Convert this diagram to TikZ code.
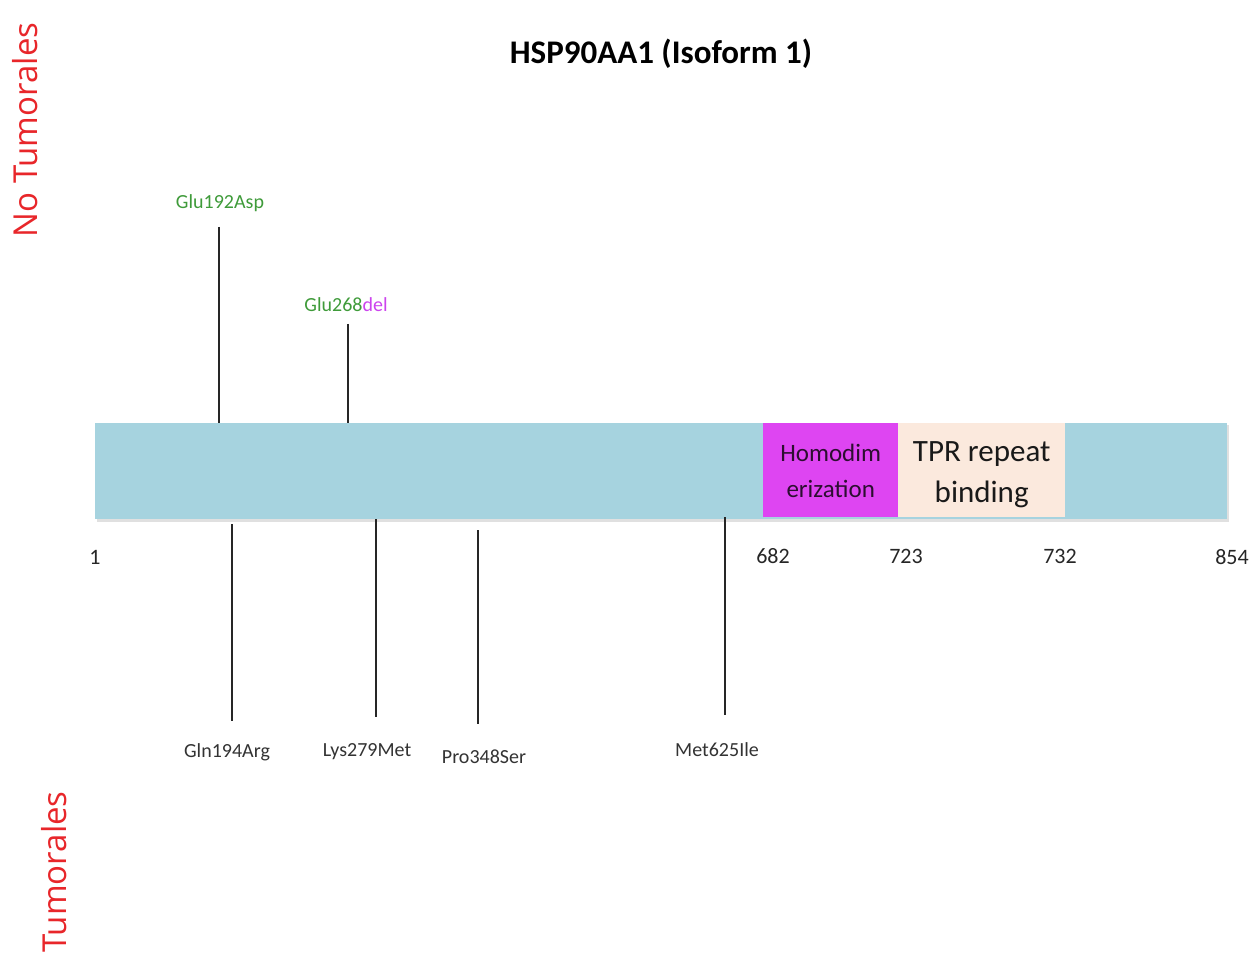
\documentclass[tikz,border=0pt]{standalone}
\usepackage{fontspec}
\setmainfont{Carlito}
\newfontfamily\sidefont{Open Sans}
\begin{document}
\definecolor{barblue}{HTML}{A6D3DF}
\definecolor{dimmag}{HTML}{DE45F2}
\definecolor{tprpeach}{HTML}{FBE9DD}
\definecolor{mutgreen}{HTML}{3F9B3A}
\definecolor{delmag}{HTML}{CC44EE}
\definecolor{sidered}{HTML}{E8262A}
\begin{tikzpicture}[x=1pt,y=-1pt,
  stem/.style={draw=black!85,line width=1.5pt},
  mutlabel/.style={font=\fontsize{20}{20}\selectfont,text=black!80,inner sep=0pt},
  uplabel/.style={font=\fontsize{20}{20}\selectfont,text=mutgreen,inner sep=0pt},
  poslabel/.style={font=\fontsize{22}{22}\selectfont,text=black!85,inner sep=0pt},
  sidelabel/.style={font=\sidefont\fontsize{33}{33}\selectfont,text=sidered,rotate=90,inner sep=0pt},
  dombox/.style={minimum height=94pt,anchor=north west,inner sep=0pt},
  domtext/.style={align=center,inner sep=0pt}]
\useasboundingbox (0,0) rectangle (1253,957);
\fill[white] (0,0) rectangle (1253,957);

% title and side captions
\node[font=\bfseries\fontsize{33}{33}\selectfont,inner sep=0pt] (title) at (661,54) {HSP90AA1 (Isoform 1)};
\node[sidelabel] (nontum) at (25,130) {No Tumorales};
\node[sidelabel] (tum) at (54,872) {Tumorales};

% protein bar and domains
\fill[black!12] (97,425) rectangle (1229,522);
\node[fill=barblue,minimum width=1132pt,minimum height=96pt,anchor=north west,inner sep=0pt] (bar) at (95,423) {};
\node[dombox,fill=dimmag,minimum width=135pt] (homo) at (763,423) {};
\node[dombox,fill=tprpeach,minimum width=167pt] (tpr) at (898,423) {};
\node[domtext,font=\fontsize{25}{36}\selectfont,text=black!80!dimmag] (homotxt) at ([yshift=-1pt]homo.center) {Homodim\\erization};
\node[domtext,font=\fontsize{31}{41}\selectfont,text=black!90] (tprtxt) at ([yshift=-5pt]tpr.center) {TPR repeat\\binding};

% residue positions
\node[poslabel] (p1) at (95,557) {1};
\node[poslabel] (p682) at (773,556) {682};
\node[poslabel] (p723) at (906,556) {723};
\node[poslabel] (p732) at (1060,556) {732};
\node[poslabel] (p854) at (1232,557) {854};

% non-tumour variants (above the bar)
\node[uplabel] (m192) at (220,203) {Glu192Asp};
\node[uplabel] (m268) at (346,305) {Glu268\textcolor{delmag}{del}};
\coordinate (t192) at (219,227);
\coordinate (b192) at (219,423);
\coordinate (t268) at (348,324);
\coordinate (b268) at (348,423);
\draw[stem] (t192) -- (b192);
\draw[stem] (t268) -- (b268);

% tumour variants (below the bar)
\node[mutlabel] (m194) at (227,752) {Gln194Arg};
\node[mutlabel] (m279) at (367,752) {Lys279Met};
\node[mutlabel] (m348) at (484,757) {Pro348Ser};
\node[mutlabel] (m625) at (717,750) {Met625Ile};
\coordinate (s194) at (232,524);
\coordinate (e194) at (232,721);
\coordinate (s279) at (376,519);
\coordinate (e279) at (376,717);
\coordinate (s348) at (478,530);
\coordinate (e348) at (478,724);
\coordinate (s625) at (725,517);
\coordinate (e625) at (725,715);
\draw[stem] (s194) -- (e194);
\draw[stem] (s279) -- (e279);
\draw[stem] (s348) -- (e348);
\draw[stem] (s625) -- (e625);
\end{tikzpicture}
\end{document}
